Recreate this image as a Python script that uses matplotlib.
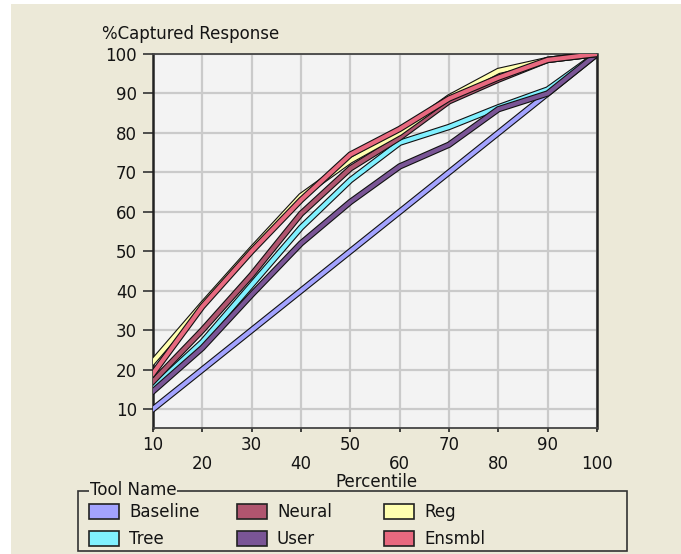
import matplotlib.pyplot as plt
import matplotlib.patheffects as pe
from matplotlib.patches import Patch, Rectangle


# data
percentile = [10, 20, 30, 40, 50, 60, 70, 80, 90, 100]
baseline = [10, 20, 30, 40, 50, 60, 70, 80, 90, 100]
tree = [15.5, 27, 41.5, 56, 68, 77.5, 81.5, 86.5, 91, 100]
neural = [17, 30, 44, 59.5, 71, 78.8, 88, 93.5, 98.5, 100]
user = [14.5, 25.5, 39, 52, 62.5, 71.5, 77, 86, 90, 100]
reg = [22, 36.5, 50.5, 64, 73, 80, 89, 95.7, 98.5, 100]
ensmbl = [19, 36, 50, 63, 74.5, 81, 88.7, 94, 98.5, 100]

names = ['Baseline', 'Tree', 'Neural', 'User', 'Reg', 'Ensmbl']
series = [baseline, tree, neural, user, reg, ensmbl]
colors = ['#A3A3FF', '#80F0FF', '#B0556F', '#7A5596', '#FFFFB0', '#E8697F']

x_odd = [10, 30, 50, 70, 90]
x_even = [20, 40, 60, 80, 100]
y_ticks = [10, 20, 30, 40, 50, 60, 70, 80, 90, 100]

plt.rcParams['font.family'] = ['DejaVu Sans']
fs = 12
text_color = '#141414'
bg = '#ECE9D8'

# initial the figure
fig = plt.figure(figsize=(6.81, 5.54), dpi=100, facecolor=bg)
ax = fig.add_axes([153 / 681, 1 - 428 / 554, 444 / 681, 374 / 554])
ax.set_facecolor('#F3F3F3')

# white strips at the top and left edge
fig.patches.append(Rectangle((0, 1 - 4 / 554), 1, 4 / 554, transform=fig.transFigure,
                             facecolor='white', edgecolor='none', zorder=-5))
fig.patches.append(Rectangle((0, 0), 11 / 681, 1, transform=fig.transFigure,
                             facecolor='white', edgecolor='none', zorder=-5))

# plot data, coloured ribbons with a black outline
for name, vals, col in zip(names, series, colors):
    ax.plot(percentile, vals, color=col, lw=3.0, solid_joinstyle='miter', zorder=3,
            path_effects=[pe.Stroke(linewidth=4.6, foreground='#111111'), pe.Normal()])

# axis settings
ax.set_xlim(10, 100)
ax.set_ylim(5.2, 100)
ax.set_xticks(x_odd)
ax.set_xticks(x_even, minor=True)
ax.set_xticklabels([str(v) for v in x_odd])
ax.set_xticklabels([str(v) for v in x_even], minor=True)
ax.set_yticks(y_ticks)
ax.tick_params(axis='x', which='major', length=3, width=1.2, pad=3, labelsize=fs,
               labelcolor=text_color, color='#222222')
ax.tick_params(axis='x', which='minor', length=3, width=1.2, pad=16.5, labelsize=fs,
               labelcolor=text_color, color='#222222')
ax.tick_params(axis='y', length=7, width=1.2, pad=4.5, labelsize=fs,
               labelcolor=text_color, color='#333333')
ax.grid(True, which='both', axis='x', color='#CACACA', lw=1.6, zorder=0)
ax.grid(True, axis='y', color='#CACACA', lw=1.6, zorder=0)
ax.set_axisbelow(True)
for side in ['left', 'right']:
    ax.spines[side].set_linewidth(1.8)
    ax.spines[side].set_color('#222222')
for side in ['top', 'bottom']:
    ax.spines[side].set_linewidth(1.3)
    ax.spines[side].set_color('#444444')

fig.text(102 / 681, 1 - 34 / 554, '%Captured Response', fontsize=fs,
         color=text_color, ha='left', va='center')
fig.text(376 / 681, 1 - 482 / 554, 'Percentile', fontsize=fs,
         color=text_color, ha='center', va='center')

# legend group box
fig.patches.append(Rectangle((78 / 681, 1 - 551 / 554), 549 / 681, 60 / 554,
                             transform=fig.transFigure, facecolor='none',
                             edgecolor='#333333', lw=1.2))
fig.text(90 / 681, 1 - 490 / 554, 'Tool Name', fontsize=fs, color=text_color,
         ha='left', va='center',
         bbox=dict(facecolor=bg, edgecolor='none', pad=0.5))

# one legend per column so the columns sit where the reference has them
col_left = [89, 237, 384]
for j, x0 in enumerate(col_left):
    handles = [Patch(facecolor=colors[k], edgecolor='#222222', lw=1.2, label=names[k])
               for k in (2 * j, 2 * j + 1)]
    leg = fig.legend(handles=handles, loc='upper left',
                     bbox_to_anchor=(x0 / 681, 1 - 503 / 554), frameon=False,
                     fontsize=fs, handlelength=1.8, handleheight=0.96,
                     handletextpad=0.6, labelspacing=0.55, borderpad=0,
                     borderaxespad=0, labelcolor=text_color)

fig.savefig('out.png', dpi=100, facecolor=bg)
